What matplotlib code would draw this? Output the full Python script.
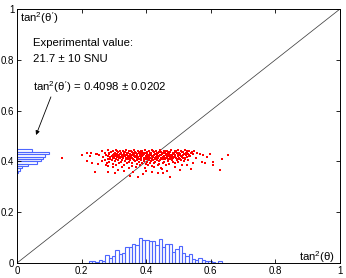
import matplotlib
matplotlib.use('Agg')
import matplotlib.pyplot as plt
import numpy as np

plt.rcParams['font.family'] = ['Liberation Sans', 'DejaVu Sans']
plt.rcParams['mathtext.fontset'] = 'custom'
plt.rcParams['mathtext.rm'] = 'Liberation Sans'
plt.rcParams['mathtext.it'] = 'Liberation Sans'
plt.rcParams['mathtext.bf'] = 'Liberation Sans:bold'

# ticks
tick_vals = [0, 0.2, 0.4, 0.6, 0.8, 1]
tick_labels = ['0', '0.2', '0.4', '0.6', '0.8', '1']

# histogram of tan^2(theta) along x (bottom)
xhist_start = 0.222
xhist_width = 0.0103
xhist_heights = [0.0067, 0.0067, 0.004, 0.012, 0.008, 0.030, 0.021, 0.026, 0.050, 0.035,
                 0.039, 0.063, 0.063, 0.076, 0.072, 0.098, 0.091, 0.091, 0.087, 0.085,
                 0.072, 0.096, 0.063, 0.076, 0.073, 0.043, 0.054, 0.067, 0.041, 0.028,
                 0.034, 0.014, 0.012, 0.020, 0.012, 0.0067, 0.009, 0.002, 0.0, 0.0067]

# histogram of tan^2(theta') along y (left)
yhist_start = 0.354
yhist_width = 0.0093
yhist_lengths = [0.004, 0.009, 0.015, 0.035, 0.061, 0.073, 0.080, 0.087, 0.099, 0.046]

# scatter of (tan^2(theta), tan^2(theta')) points
scatter_pts = [
    (0.262, 0.441), (0.281, 0.443), (0.297, 0.440), (0.305, 0.444), (0.318, 0.442), (0.327, 0.439),
    (0.339, 0.443), (0.352, 0.441), (0.361, 0.444), (0.374, 0.440), (0.386, 0.442), (0.395, 0.444),
    (0.408, 0.441), (0.419, 0.443), (0.431, 0.440), (0.442, 0.444), (0.455, 0.442), (0.463, 0.439),
    (0.476, 0.443), (0.488, 0.441), (0.497, 0.444), (0.509, 0.440), (0.521, 0.443), (0.533, 0.441),
    (0.548, 0.442),
    (0.292, 0.438), (0.311, 0.439), (0.330, 0.438), (0.348, 0.439), (0.366, 0.438), (0.384, 0.439),
    (0.402, 0.438), (0.421, 0.439), (0.439, 0.438), (0.457, 0.439), (0.474, 0.438), (0.492, 0.439),
    (0.511, 0.438), (0.527, 0.439),
    (0.273, 0.435), (0.291, 0.437), (0.302, 0.434), (0.313, 0.437), (0.322, 0.435), (0.334, 0.436),
    (0.345, 0.434), (0.356, 0.437), (0.367, 0.435), (0.379, 0.436), (0.390, 0.434), (0.401, 0.437),
    (0.413, 0.435), (0.424, 0.436), (0.436, 0.434), (0.447, 0.437), (0.459, 0.435), (0.470, 0.436),
    (0.482, 0.434), (0.493, 0.437), (0.503, 0.435), (0.515, 0.436), (0.527, 0.434), (0.541, 0.437),
    (0.558, 0.435),
    (0.284, 0.432), (0.304, 0.433), (0.323, 0.432), (0.341, 0.433), (0.359, 0.432), (0.377, 0.433),
    (0.396, 0.432), (0.414, 0.433), (0.432, 0.432), (0.451, 0.433), (0.468, 0.432), (0.486, 0.433),
    (0.503, 0.432), (0.522, 0.433), (0.538, 0.432),
    (0.248, 0.431), (0.286, 0.429), (0.299, 0.431), (0.309, 0.428), (0.320, 0.430), (0.331, 0.432),
    (0.342, 0.429), (0.350, 0.431), (0.363, 0.428), (0.372, 0.430), (0.383, 0.432), (0.393, 0.429),
    (0.404, 0.431), (0.416, 0.428), (0.427, 0.430), (0.438, 0.432), (0.450, 0.429), (0.461, 0.431),
    (0.472, 0.428), (0.484, 0.430), (0.495, 0.432), (0.506, 0.429), (0.518, 0.431), (0.530, 0.428),
    (0.544, 0.430), (0.567, 0.429),
    (0.296, 0.426), (0.314, 0.427), (0.332, 0.426), (0.352, 0.427), (0.370, 0.426), (0.388, 0.427),
    (0.406, 0.426), (0.424, 0.427), (0.442, 0.426), (0.460, 0.427), (0.478, 0.426), (0.497, 0.427),
    (0.515, 0.426), (0.534, 0.427),
    (0.277, 0.425), (0.293, 0.423), (0.304, 0.425), (0.315, 0.422), (0.325, 0.424), (0.336, 0.426),
    (0.347, 0.423), (0.358, 0.425), (0.369, 0.422), (0.381, 0.424), (0.391, 0.426), (0.402, 0.423),
    (0.411, 0.425), (0.422, 0.422), (0.433, 0.424), (0.445, 0.426), (0.456, 0.423), (0.467, 0.425),
    (0.479, 0.422), (0.490, 0.424), (0.500, 0.426), (0.512, 0.423), (0.524, 0.425), (0.537, 0.422),
    (0.577, 0.425),
    (0.281, 0.420), (0.306, 0.421), (0.327, 0.420), (0.345, 0.421), (0.362, 0.420), (0.380, 0.421),
    (0.399, 0.420), (0.417, 0.421), (0.435, 0.420), (0.454, 0.421), (0.471, 0.420), (0.490, 0.421),
    (0.507, 0.420), (0.532, 0.421),
    (0.266, 0.419), (0.289, 0.417), (0.301, 0.419), (0.311, 0.416), (0.323, 0.418), (0.333, 0.420),
    (0.344, 0.417), (0.354, 0.419), (0.365, 0.416), (0.376, 0.418), (0.388, 0.420), (0.398, 0.417),
    (0.410, 0.419), (0.421, 0.416), (0.429, 0.418), (0.440, 0.420), (0.452, 0.417), (0.465, 0.419),
    (0.474, 0.416), (0.486, 0.418), (0.499, 0.420), (0.511, 0.417), (0.526, 0.419), (0.554, 0.412),
    (0.300, 0.414), (0.317, 0.415), (0.336, 0.414), (0.356, 0.415), (0.374, 0.414), (0.392, 0.415),
    (0.411, 0.414), (0.429, 0.415), (0.447, 0.414), (0.464, 0.415), (0.483, 0.414), (0.500, 0.415),
    (0.514, 0.414),
    (0.283, 0.411), (0.296, 0.413), (0.307, 0.410), (0.319, 0.412), (0.329, 0.414), (0.341, 0.411),
    (0.349, 0.413), (0.360, 0.410), (0.371, 0.412), (0.383, 0.414), (0.394, 0.411), (0.406, 0.413),
    (0.417, 0.410), (0.426, 0.412), (0.437, 0.414), (0.449, 0.411), (0.458, 0.413), (0.469, 0.410),
    (0.481, 0.412), (0.492, 0.414), (0.505, 0.411), (0.519, 0.413), (0.587, 0.416),
    (0.288, 0.408), (0.305, 0.409), (0.343, 0.408), (0.379, 0.409), (0.403, 0.408), (0.426, 0.409),
    (0.451, 0.408), (0.473, 0.409), (0.499, 0.408), (0.521, 0.409),
    (0.271, 0.405), (0.294, 0.407), (0.312, 0.404), (0.326, 0.406), (0.338, 0.408), (0.351, 0.405),
    (0.362, 0.407), (0.373, 0.404), (0.385, 0.406), (0.397, 0.408), (0.409, 0.405), (0.420, 0.407),
    (0.432, 0.404), (0.444, 0.406), (0.457, 0.408), (0.468, 0.405), (0.480, 0.407), (0.494, 0.404),
    (0.508, 0.406), (0.530, 0.407), (0.634, 0.408),
    (0.262, 0.400), (0.285, 0.398), (0.303, 0.401), (0.321, 0.399), (0.335, 0.402), (0.348, 0.398),
    (0.366, 0.401), (0.378, 0.399), (0.392, 0.402), (0.403, 0.398), (0.415, 0.401), (0.428, 0.399),
    (0.441, 0.402), (0.454, 0.398), (0.466, 0.401), (0.483, 0.399), (0.498, 0.397), (0.516, 0.401),
    (0.572, 0.399), (0.608, 0.399),
    (0.233, 0.395), (0.280, 0.393), (0.298, 0.391), (0.316, 0.394), (0.340, 0.392), (0.357, 0.395),
    (0.370, 0.391), (0.387, 0.393), (0.400, 0.390), (0.412, 0.394), (0.425, 0.392), (0.439, 0.389),
    (0.451, 0.393), (0.471, 0.391), (0.489, 0.394), (0.546, 0.393), (0.582, 0.393),
    (0.250, 0.390), (0.275, 0.386), (0.308, 0.384), (0.331, 0.387), (0.355, 0.383), (0.382, 0.385),
    (0.405, 0.387), (0.418, 0.382), (0.435, 0.385), (0.460, 0.384), (0.510, 0.386), (0.525, 0.386),
    (0.606, 0.386),
    (0.281, 0.382), (0.297, 0.376), (0.324, 0.379), (0.346, 0.375), (0.368, 0.378), (0.396, 0.374),
    (0.423, 0.377), (0.447, 0.375), (0.489, 0.379), (0.538, 0.372),
    (0.241, 0.359), (0.283, 0.359), (0.303, 0.356), (0.350, 0.343), (0.360, 0.359), (0.376, 0.337),
    (0.391, 0.350), (0.417, 0.359), (0.437, 0.353), (0.448, 0.369), (0.453, 0.353), (0.474, 0.340),
    (0.505, 0.366), (0.628, 0.366), (0.313, 0.366), (0.332, 0.363), (0.400, 0.364), (0.463, 0.362),
    (0.138, 0.415), (0.200, 0.426), (0.216, 0.434), (0.229, 0.432), (0.226, 0.421), (0.244, 0.429),
    (0.254, 0.426), (0.216, 0.403), (0.654, 0.425), (0.598, 0.429),
]

diag = [0, 1]

fig = plt.figure(figsize=(3.46, 2.78), dpi=100)
ax = fig.add_axes([17/346, 15/278, 323/346, 254/278])

# diagonal tan^2(theta') = tan^2(theta)
ax.plot(diag, diag, color='0.25', lw=0.55)

# histograms
hist_color = (0.3, 0.4, 1.0)
xedges = xhist_start + xhist_width*np.arange(len(xhist_heights))
ax.bar(xedges, xhist_heights, width=xhist_width, align='edge',
       facecolor='none', edgecolor=hist_color, lw=0.8)
yedges = yhist_start + yhist_width*np.arange(len(yhist_lengths))
ax.barh(yedges, yhist_lengths, height=yhist_width, align='edge',
        facecolor='none', edgecolor=hist_color, lw=0.8)

# scatter
px = [p[0] for p in scatter_pts]
py = [p[1] for p in scatter_pts]
ax.plot(px, py, 's', color='red', ms=1.7, mew=0)

# texts
ax.text(0.009, 0.963, r'tan$^2$($\theta^{\prime}$)', fontsize=8.2, va='center', ha='left')
ax.text(0.05, 0.866, 'Experimental value:', fontsize=8.2, va='center', ha='left')
ax.text(0.05, 0.803, '21.7 ± 10 SNU', fontsize=8.2, va='center', ha='left')
ax.text(0.05, 0.693, r'tan$^2$($\theta^{\prime}$) = 0.4098 ± 0.0202', fontsize=8.2, va='center', ha='left')
ax.text(0.985, 0.024, r'tan$^2$($\theta$)', fontsize=8.2, va='center', ha='right')
ax.annotate('', xy=(0.059, 0.504), xytext=(0.105, 0.654),
            arrowprops=dict(arrowstyle='-|>', color='black', lw=0.6,
                            mutation_scale=6, shrinkA=0, shrinkB=0))

ax.set_xlim(0, 1)
ax.set_ylim(0, 1)
ax.set_xticks(tick_vals)
ax.set_xticklabels(tick_labels)
ax.set_yticks(tick_vals)
ax.set_yticklabels(tick_labels)
ax.tick_params(direction='in', top=True, right=True, length=3, width=0.6,
               labelsize=7, pad=2)
for s in ax.spines.values():
    s.set_linewidth(0.7)

plt.savefig('out.png', dpi=100)
